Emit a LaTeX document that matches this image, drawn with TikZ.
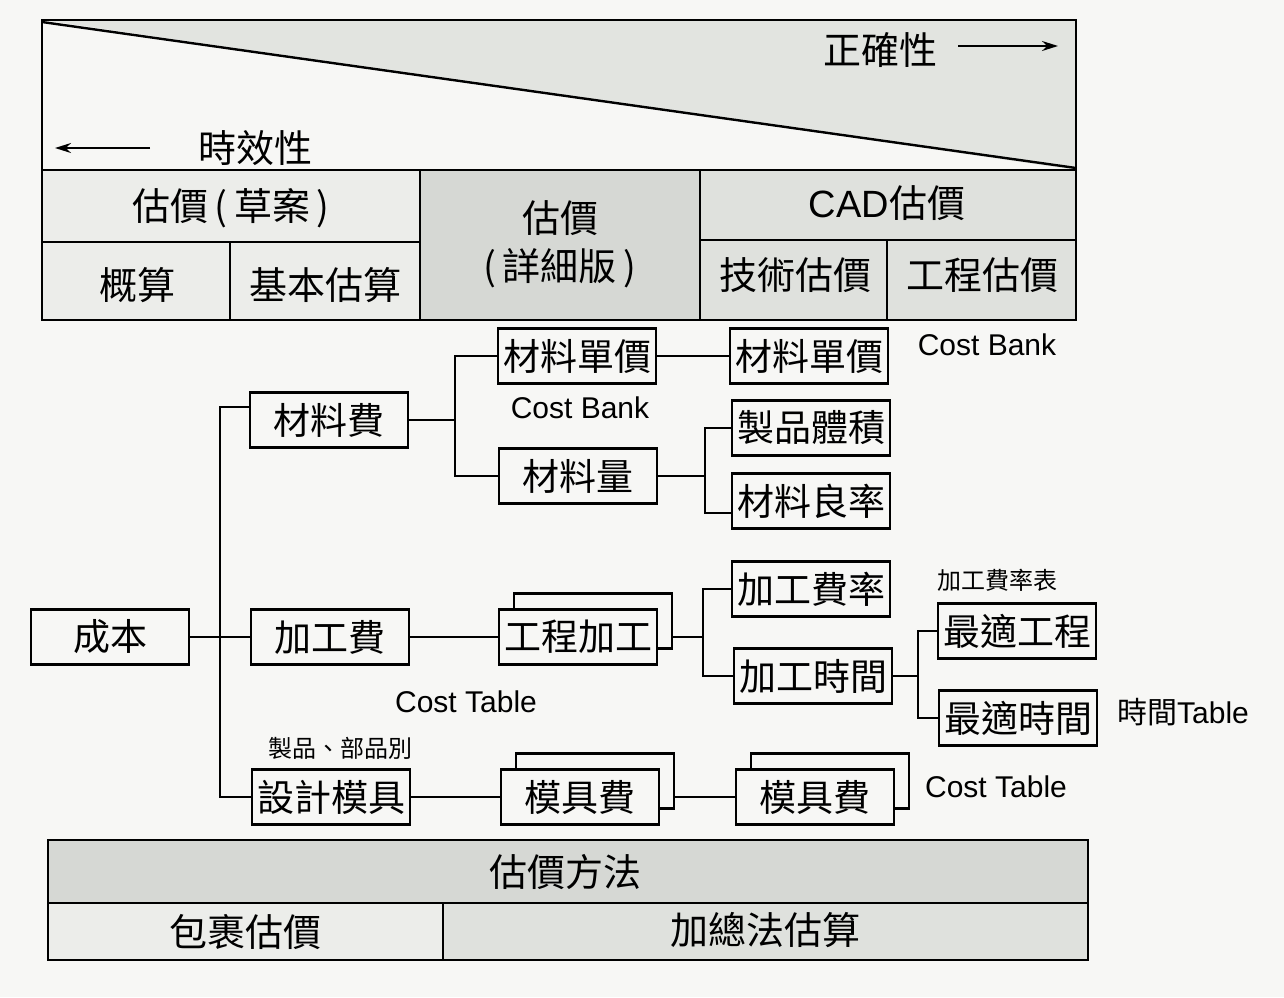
\documentclass[tikz,border=0pt]{standalone}
\usepackage{fontspec}
\setmainfont{Liberation Sans}
\newfontfamily\cjk{Noto Sans CJK TC}
\usetikzlibrary{arrows.meta}

\definecolor{paper}{RGB}{247,247,245}
\definecolor{gtri}{RGB}{226,228,224}
\definecolor{gdark}{RGB}{214,216,212}
\definecolor{gcad}{RGB}{223,225,221}
\definecolor{glight}{RGB}{236,237,234}

\tikzstyle{cbox}=[rectangle, draw, fill=paper, line width=1.2pt, minimum width=79pt, minimum height=27.5pt, inner sep=1pt, font=\cjk\fontsize{18.5}{20}\selectfont]
\tikzstyle{cell}=[font=\cjk\fontsize{19}{22}\selectfont]
\tikzstyle{note}=[font=\fontsize{15}{17}\selectfont]
\tikzstyle{cnote}=[font=\cjk\fontsize{12}{14}\selectfont]
\tikzstyle{link}=[line width=1.2pt]

\begin{document}
\begin{tikzpicture}[x=0.5pt,y=-0.5pt]
\useasboundingbox (0,0) rectangle (1284,997);
\fill[paper] (0,0) rectangle (1284,997);

% top table
\fill[gtri] (42,20) -- (1076,20) -- (1076,170) -- cycle;
\fill[glight] (42,170) rectangle (420,320);
\fill[gdark] (420,170) rectangle (700,320);
\fill[gcad] (700,170) rectangle (1076,320);
\draw[link] (42,20) rectangle (1076,320);
\draw[link] (42,22) -- (1076,168);
\draw[link] (42,170) -- (1076,170);
\draw[link] (420,170) -- (420,320);
\draw[link] (700,170) -- (700,320);
\draw[link] (42,242) -- (420,242);
\draw[link] (230,242) -- (230,320);
\draw[link] (700,240) -- (1076,240);
\draw[link] (887,240) -- (887,320);

\node [cell] (t1) at (255,148) {時效性};
\node [cell] (t2) at (880,50) {正確性};
\coordinate (a1) at (150,148);
\coordinate (a2) at (55,148);
\coordinate (a3) at (958,46);
\coordinate (a4) at (1058,46);
\draw[line width=1pt, -{Stealth[length=8pt,width=5pt]}] (a1) -- (a2);
\draw[line width=1pt, -{Stealth[length=8pt,width=5pt]}] (a3) -- (a4);

\node [cell] (h1) at (231,208) {估價\,(\,草案\,)};
\node [cell] (h2) at (137,285) {概算};
\node [cell] (h3) at (325,285) {基本估算};
\node [cell] (h4) at (560,218) {估價};
\node [cell] (h5) at (560,268) {(\,詳細版\,)};
\node [cell] (h6) at (887,203) {{\fontspec{Liberation Sans}CAD}估價};
\node [cell] (h7) at (795,275) {技術估價};
\node [cell] (h8) at (982,275) {工程估價};

% tree
\node [cbox] (c1) at (110,637) {成本};
\node [cbox] (m1) at (329,420) {材料費};
\node [cbox] (k1) at (330,637) {加工費};
\node [cbox] (d1) at (331,797) {設計模具};
\node [cbox] (m2) at (577,356) {材料單價};
\node [cbox] (m3) at (578,476) {材料量};
\node [cbox] (e2b) at (593,621) {};
\node [cbox] (e2) at (578,637) {工程加工};
\node [cbox] (p2b) at (595,781) {};
\node [cbox] (p2) at (580,797) {模具費};
\node [cbox] (m4) at (809,356) {材料單價};
\node [cbox] (m5) at (811,428) {製品體積};
\node [cbox] (m6) at (811,501) {材料良率};
\node [cbox] (k3) at (811,589) {加工費率};
\node [cbox] (k4) at (813,676) {加工時間};
\node [cbox] (k5) at (1017,631) {最適工程};
\node [cbox] (k6) at (1018,718) {最適時間};
\node [cbox] (p3b) at (830,781) {};
\node [cbox] (p3) at (815,797) {模具費};

\node [note] (n1) at (580,408) {Cost Bank};
\node [note] (n2) at (987,345) {Cost Bank};
\node [note] (n3) at (466,702) {Cost Table};
\node [cnote] (n4) at (340,748) {製品、部品別};
\node [cnote] (n5) at (997,580) {加工費率表};
\node [note] (n6) at (1183,712) {{\cjk 時間}Table};
\node [note] (n7) at (996,787) {Cost Table};

\coordinate (j1) at (220,637);
\coordinate (j2) at (455,420);
\coordinate (j3) at (705,476);
\coordinate (j4) at (703,637);
\coordinate (j5) at (918,676);
\draw[link] (c1) -- (j1);
\draw[link] (j1) |- ([yshift=6.5pt]m1.west);
\draw[link] (j1) -- (k1);
\draw[link] (j1) |- (d1);
\draw[link] (m1) -- (j2);
\draw[link] (j2) |- (m2);
\draw[link] (j2) |- (m3);
\draw[link] (m2) -- (m4);
\draw[link] (m3) -- (j3);
\draw[link] (j3) |- (m5);
\draw[link] (j3) |- ([yshift=-6pt]m6.west);
\draw[link] (k1) -- (e2);
\draw[link] (e2b.east |- e2.east) -- (j4);
\draw[link] (j4) |- (k3);
\draw[link] (j4) |- (k4);
\draw[link] (k4) -- (j5);
\draw[link] (j5) |- (k5);
\draw[link] (j5) |- (k6);
\draw[link] (d1) -- (p2);
\draw[link] (p2b.east |- p2.east) -- (p3);

% bottom table
\fill[gdark] (48,840) rectangle (1088,903);
\fill[glight] (48,903) rectangle (443,960);
\fill[gcad] (443,903) rectangle (1088,960);
\draw[link] (48,840) rectangle (1088,960);
\draw[link] (48,903) -- (1088,903);
\draw[link] (443,903) -- (443,960);
\node [cell] (b1) at (565,872) {估價方法};
\node [cell] (b2) at (245,932) {包裹估價};
\node [cell] (b3) at (765,930) {加總法估算};
\end{tikzpicture}
\end{document}
